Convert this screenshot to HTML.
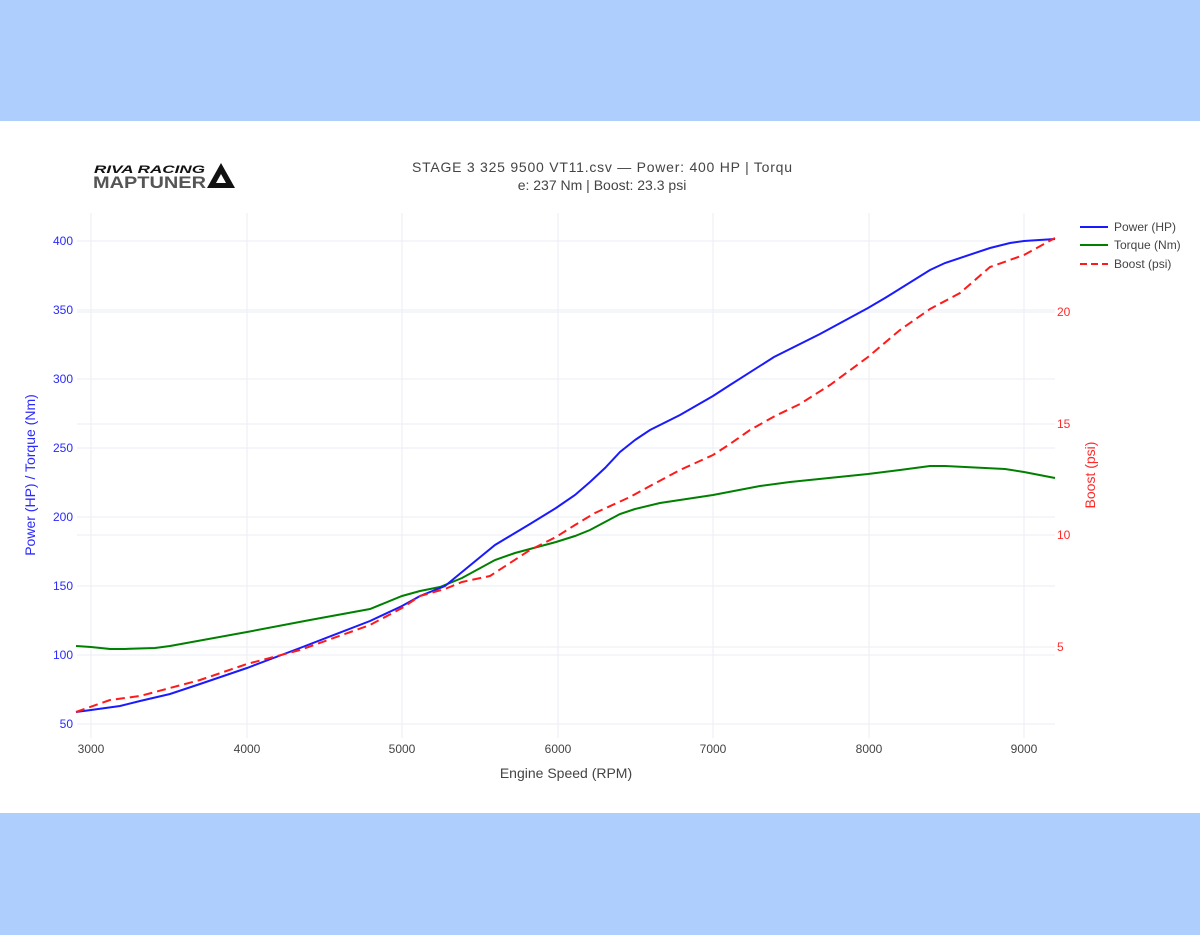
<!DOCTYPE html>
<html><head><meta charset="utf-8"><style>
html,body{margin:0;padding:0;background:#aecffe;}
svg{display:block;font-family:"Liberation Sans",Arial,sans-serif;}
</style></head><body>
<svg width="1200" height="935" xmlns="http://www.w3.org/2000/svg">
<rect x="0" y="0" width="1200" height="935" fill="#aecffe"/>
<rect x="0" y="121" width="1200" height="692" fill="#ffffff"/>
<g stroke="#ebeef5" stroke-width="1">
<line x1="91" y1="213" x2="91" y2="738"/><line x1="247" y1="213" x2="247" y2="738"/>
<line x1="402" y1="213" x2="402" y2="738"/><line x1="558" y1="213" x2="558" y2="738"/>
<line x1="713" y1="213" x2="713" y2="738"/><line x1="869" y1="213" x2="869" y2="738"/>
<line x1="1024" y1="213" x2="1024" y2="738"/>
<line x1="77" y1="241" x2="1055" y2="241"/><line x1="77" y1="310" x2="1055" y2="310"/>
<line x1="77" y1="379" x2="1055" y2="379"/><line x1="77" y1="448" x2="1055" y2="448"/>
<line x1="77" y1="517" x2="1055" y2="517"/><line x1="77" y1="586" x2="1055" y2="586"/>
<line x1="77" y1="655" x2="1055" y2="655"/><line x1="77" y1="724" x2="1055" y2="724"/>
<line x1="77" y1="312" x2="1055" y2="312"/><line x1="77" y1="424" x2="1055" y2="424"/>
<line x1="77" y1="535" x2="1055" y2="535"/><line x1="77" y1="647" x2="1055" y2="647"/>
</g>
<g font-size="12" fill="#2a2aff" text-anchor="end">
<text x="73" y="245">400</text><text x="73" y="314">350</text><text x="73" y="383">300</text>
<text x="73" y="452">250</text><text x="73" y="521">200</text><text x="73" y="590">150</text>
<text x="73" y="659">100</text><text x="73" y="728">50</text>
</g>
<g font-size="12" fill="#ff2a2a">
<text x="1057" y="316">20</text><text x="1057" y="428">15</text><text x="1057" y="539">10</text><text x="1057" y="651">5</text>
</g>
<g font-size="12" fill="#444" text-anchor="middle">
<text x="91" y="753">3000</text><text x="247" y="753">4000</text><text x="402" y="753">5000</text>
<text x="558" y="753">6000</text><text x="713" y="753">7000</text><text x="869" y="753">8000</text><text x="1024" y="753">9000</text>
</g>
<text x="566" y="778" font-size="14" fill="#444" text-anchor="middle">Engine Speed (RPM)</text>
<text transform="translate(35,475) rotate(-90)" font-size="14" fill="#2a2aff" text-anchor="middle">Power (HP) / Torque (Nm)</text>
<text transform="translate(1095,475) rotate(-90)" font-size="14" fill="#ff2a2a" text-anchor="middle">Boost (psi)</text>
<text x="602" y="172" font-size="14" fill="#444" text-anchor="middle" textLength="380">STAGE 3 325 9500  VT11.csv — Power: 400 HP | Torqu</text>
<text x="602" y="190" font-size="14" fill="#444" text-anchor="middle">e: 237 Nm | Boost: 23.3 psi</text>
<text x="94" y="173" font-size="11" font-weight="bold" font-style="italic" fill="#111" textLength="111" lengthAdjust="spacingAndGlyphs">RIVA RACING</text>
<text x="93" y="188" font-size="17" font-weight="bold" fill="#555" textLength="113" lengthAdjust="spacingAndGlyphs">MAPTUNER</text>
<polygon points="207,188 221,163 235,188" fill="#111"/>
<polygon points="216,183 221,174 226,183" fill="#fff"/>
<g fill="none" stroke-width="2">
<polyline stroke="#008000" points="76,646 91,647 110,649 125,649 155,648 170,646 247,632 310,620 370,609 402,596 420,591 440,587 462,578 495,560 515,553 556,542 575,536 590,530 605,522 620,514 635,509 660,503 713,495 760,486 790,482 868,474 900,470 930,466 945,466 1005,469 1024,472 1055,478"/>
<polyline stroke="#1a1aff" points="76,712 91,710 120,706 140,701 170,694 200,684 247,668 300,648 370,621 402,606 420,596 445,586 462,572 495,545 530,524 556,508 575,495 590,482 605,468 620,452 635,440 650,430 680,415 713,396 730,385 774,357 820,334 868,308 885,298 930,270 945,263 990,248 1010,243 1024,241 1055,239"/>
<polyline stroke="#ff1a1a" stroke-dasharray="9,5" points="76,712 110,700 140,696 170,688 200,680 247,664 300,650 370,625 402,608 420,596 445,589 462,582 490,576 510,563 530,550 556,537 575,525 595,513 630,497 650,486 680,470 713,455 730,444 750,430 775,416 800,404 830,385 868,357 900,330 930,309 960,293 990,267 1024,255 1055,238"/>
</g>
<g font-size="12" fill="#444">
<line x1="1080" y1="227" x2="1108" y2="227" stroke="#1a1aff" stroke-width="2"/><text x="1114" y="231">Power (HP)</text>
<line x1="1080" y1="245" x2="1108" y2="245" stroke="#008000" stroke-width="2"/><text x="1114" y="249">Torque (Nm)</text>
<line x1="1080" y1="264" x2="1108" y2="264" stroke="#ff1a1a" stroke-width="2" stroke-dasharray="7,4"/><text x="1114" y="268">Boost (psi)</text>
</g>
</svg>
</body></html>
